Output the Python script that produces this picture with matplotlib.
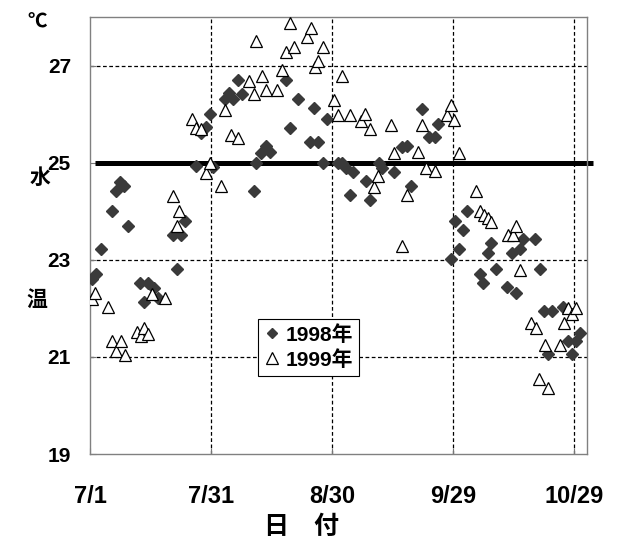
import numpy as np
import matplotlib.pyplot as plt

plt.rcParams['font.family'] = ['Liberation Sans', 'Noto Sans CJK JP', 'DejaVu Sans']

# days counted from 7/1
days_1998 = [0.4, 1.5, 2.6, 5.3, 6.4, 7.4, 8.4, 9.4, 12.4, 13.4,
             14.4, 15.8, 16.7, 20.5, 21.4, 22.6, 23.4, 26.3, 27.5, 28.7,
             29.6, 30.4, 33.3, 34.4, 35.5, 36.7, 37.7, 40.5, 41.2, 42.3,
             43.6, 44.6, 48.5, 49.6, 51.5, 54.6, 55.5, 56.5, 57.7, 58.6,
             61.5, 62.5, 63.5, 64.3, 65.2, 68.4, 69.4, 71.6, 72.4, 75.3,
             77.2, 78.6, 79.6, 82.3, 83.9, 85.5, 86.3, 89.4, 90.4, 91.5,
             92.4, 93.5, 96.6, 97.5, 98.6, 99.4, 100.6, 103.4, 104.7, 105.5,
             106.5, 107.4, 110.4, 111.5, 112.6, 113.6, 114.6, 117.3, 118.4, 119.5,
             120.6, 121.6]
temp_1998 = [22.61, 22.71, 23.23, 24.00, 24.42, 24.61, 24.52, 23.70, 22.52, 22.13,
             22.52, 22.42, 22.22, 23.51, 22.81, 23.51, 23.79, 24.93, 25.61, 25.73,
             26.00, 24.92, 26.31, 26.44, 26.31, 26.70, 26.41, 24.42, 25.00, 25.20,
             25.34, 25.22, 26.70, 25.71, 26.31, 25.42, 26.12, 25.42, 25.00, 25.90,
             25.00, 24.99, 24.90, 24.33, 24.80, 24.62, 24.23, 25.00, 24.90, 24.81,
             25.33, 25.34, 24.52, 26.11, 25.52, 25.52, 25.79, 23.02, 23.80, 23.23,
             23.61, 24.00, 22.71, 22.52, 23.14, 23.35, 22.81, 22.43, 23.14, 22.32,
             23.22, 23.43, 23.43, 22.81, 21.94, 21.05, 21.94, 22.03, 21.33, 21.06,
             21.33, 21.50]

days_1999 = [0.4, 1.2, 4.4, 5.3, 6.4, 7.5, 8.5, 11.5, 12.6, 13.2,
             14.4, 15.3, 18.5, 20.6, 21.5, 22.1, 25.3, 26.1, 27.4, 28.7,
             29.6, 32.5, 33.4, 34.8, 36.7, 39.4, 40.5, 41.2, 42.6, 43.5,
             46.4, 47.5, 48.5, 49.6, 50.5, 53.7, 54.7, 55.8, 56.5, 57.6,
             60.5, 61.5, 62.5, 64.3, 67.2, 68.2, 69.3, 70.5, 71.4, 74.5,
             75.3, 77.2, 78.6, 81.3, 82.4, 83.4, 85.5, 88.6, 89.4, 90.3,
             91.5, 95.7, 96.6, 97.7, 98.6, 99.4, 103.5, 104.9, 105.6, 106.6,
             109.3, 110.5, 111.4, 112.7, 113.6, 116.5, 117.4, 118.4, 119.5, 120.5]
temp_1999 = [22.19, 22.31, 22.02, 21.32, 21.13, 21.32, 21.03, 21.52, 21.43, 21.60,
             21.48, 22.29, 22.21, 24.31, 23.70, 24.00, 25.89, 25.72, 25.70, 24.79,
             25.00, 24.51, 26.09, 25.56, 25.51, 26.69, 26.42, 27.50, 26.78, 26.50,
             26.50, 26.90, 27.28, 27.87, 27.38, 27.58, 27.78, 26.96, 27.09, 27.38,
             26.30, 25.99, 26.78, 25.99, 25.86, 26.00, 25.69, 24.49, 24.72, 25.77,
             25.20, 23.28, 24.33, 25.21, 25.78, 24.88, 24.82, 25.98, 26.19, 25.88,
             25.20, 24.41, 24.00, 23.92, 23.87, 23.78, 23.52, 23.52, 23.69, 22.79,
             21.69, 21.59, 20.55, 21.25, 20.35, 21.25, 21.69, 22.00, 21.89, 22.01]

tick_days = [0, 30, 60, 90, 120]
tick_labels = ['7/1', '7/31', '8/30', '9/29', '10/29']
y_ticks = [19, 21, 23, 25, 27]
ref_temp = 25
ref_span = [1.2, 124.6]

fig = plt.figure(figsize=(6.33, 5.44), dpi=100)
ax = fig.add_axes([0.1427, 0.1654, 0.7845, 0.8034])

# grid
for d in tick_days[1:]:
    ax.axvline(d, color='black', lw=0.9, ls=(0, (3, 2)), zorder=1)
for t in [21, 23, 27]:
    ax.axhline(t, color='black', lw=0.9, ls=(0, (3, 2)), zorder=1)

ax.plot(ref_span, [ref_temp, ref_temp], color='black', lw=3.6, zorder=2,
        clip_on=False, solid_capstyle='butt')

ax.plot(days_1998, temp_1998, ls='none', marker='D', ms=5.8,
        mfc='#3a3a3a', mec='#3a3a3a', zorder=3, label='1998年')
ax.plot(days_1999, temp_1999, ls='none', marker='^', ms=9,
        mfc='white', mec='black', mew=0.9, zorder=4, label='1999年')

ax.set_xlim(0, 123.2)
ax.set_ylim(19, 28)
ax.set_xticks(tick_days)
ax.set_xticklabels(tick_labels, fontsize=17, fontweight='bold')
ax.set_yticks(y_ticks)
ax.set_yticklabels([str(v) for v in y_ticks], fontsize=15, fontweight='bold')
ax.tick_params(axis='both', direction='in', length=4, color='#777777')
ax.tick_params(axis='y', pad=14)
ax.tick_params(axis='x', pad=22)
for s in ax.spines.values():
    s.set_color('#808080')
    s.set_linewidth(1.0)

leg = ax.legend(loc='upper left', bbox_to_anchor=(0.338, 0.31), borderaxespad=0,
                fancybox=False, edgecolor='black', framealpha=1,
                prop={'size': 15, 'weight': 'bold'}, handlelength=0.7,
                handletextpad=0.3, markerscale=0.95, borderpad=0.3,
                labelspacing=0.25)
leg.get_frame().set_linewidth(0.8)

fig.text(0.058, 0.958, '℃', fontsize=14, fontweight='bold', ha='center', va='center')
fig.text(0.063, 0.672, '水', fontsize=15, fontweight='bold', ha='center', va='center')
fig.text(0.058, 0.448, '温', fontsize=15, fontweight='bold', ha='center', va='center')
fig.text(0.477, 0.031, '日　付', fontsize=18, fontweight='bold', ha='center', va='center')

fig.savefig('out.png', dpi=100)
